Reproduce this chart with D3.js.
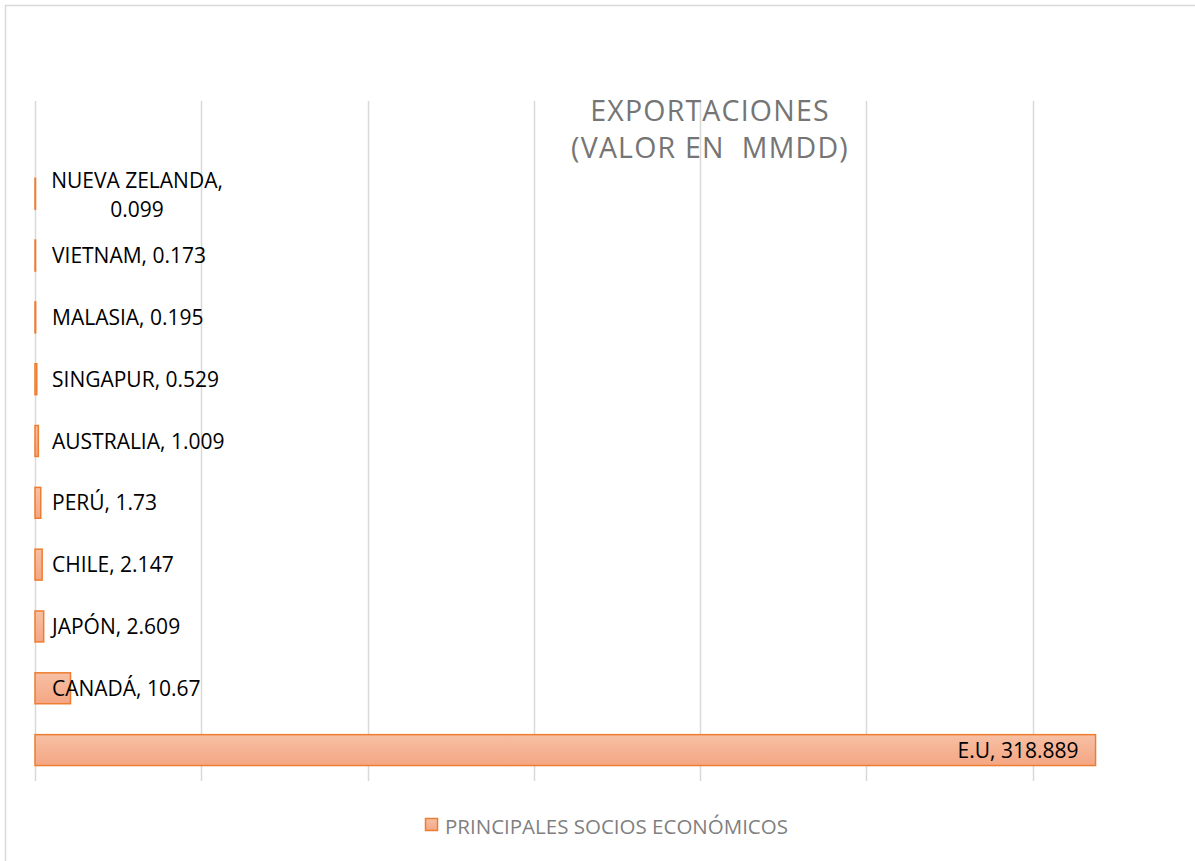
<!DOCTYPE html>
<html>
<head>
<meta charset="utf-8">
<script src="https://cdn.jsdelivr.net/npm/d3@7"></script>
<style>
  body { margin: 0; background: #fff; }
  svg { display: block; font-family: "Open Sans", sans-serif; }
</style>
</head>
<body>
<svg id="chart" width="1195" height="861"></svg>
<script>
// categories top -> bottom
var countries = ["NUEVA ZELANDA", "VIETNAM", "MALASIA", "SINGAPUR", "AUSTRALIA", "PERÚ", "CHILE", "JAPÓN", "CANADÁ", "E.U"];
var values = [0.099, 0.173, 0.195, 0.529, 1.009, 1.73, 2.147, 2.609, 10.67, 318.889];
var xTicks = [0, 50, 100, 150, 200, 250, 300, 350];
var seriesName = "PRINCIPALES SOCIOS ECONÓMICOS";
var titleLines = ["EXPORTACIONES", "(VALOR EN  MMDD)"];

var data = countries.map(function(c, i) { return { name: c, value: values[i] }; });

var svg = d3.select("#chart");

// chart area frame
svg.append("rect")
    .attr("x", 5.5).attr("y", 5.5)
    .attr("width", 1300).attr("height", 1000)
    .attr("fill", "#fff")
    .attr("stroke", "#d9d9d9")
    .attr("stroke-width", 1.5);

var defs = svg.append("defs");
var grad = defs.append("linearGradient")
    .attr("id", "barGrad")
    .attr("x1", 0).attr("y1", 0).attr("x2", 0).attr("y2", 1);
grad.append("stop").attr("offset", "0%").attr("stop-color", "#f7c0a4");
grad.append("stop").attr("offset", "100%").attr("stop-color", "#f4a683");

var plotTop = 101, plotBottom = 781;
var step = (plotBottom - plotTop) / (countries.length + 1);

var x = d3.scaleLinear().domain([0, 350]).range([35, 1199]);
var y = d3.scaleBand()
    .domain(countries)
    .range([plotTop + step, plotBottom])
    .paddingInner(0.5)
    .paddingOuter(0.25);

// gridlines
svg.append("g")
    .attr("class", "grid")
  .selectAll("line")
  .data(xTicks)
  .enter().append("line")
    .attr("x1", function(d) { return Math.round(x(d)) + 0.5; })
    .attr("x2", function(d) { return Math.round(x(d)) + 0.5; })
    .attr("y1", plotTop)
    .attr("y2", plotBottom)
    .style("stroke", "#d9d9d9")
    .style("stroke-width", 1.5);

// title, two separate lines
svg.append("g")
  .selectAll("text")
  .data(titleLines)
  .enter().append("text")
    .attr("x", 710)
    .attr("y", function(d, i) { return 121 + i * 37; })
    .attr("text-anchor", "middle")
    .style("fill", "#757575")
    .style("font-size", "28.5px")
    .style("letter-spacing", "1.2px")
    .style("white-space", "pre")
    .text(function(d) { return d; });

// bars
svg.append("g")
  .selectAll("rect")
  .data(data)
  .enter().append("rect")
    .attr("x", x(0))
    .attr("y", function(d) { return y(d.name); })
    .attr("width", function(d) { return Math.max(x(d.value) - x(0), 0.5); })
    .attr("height", y.bandwidth())
    .attr("fill", "url(#barGrad)")
    .style("stroke", "#ed7d31")
    .style("stroke-width", 1.5);

// labels
var labels = svg.append("g")
  .selectAll("text")
  .data(data)
  .enter().append("text")
    .style("font-size", "21px")
    .style("fill", "#000");

labels.each(function(d) {
  var t = d3.select(this);
  var cy = y(d.name) + y.bandwidth() / 2;
  var txt = d.name + ", " + d.value;
  if (d.name === "E.U") {
    t.attr("x", x(d.value) - 17).attr("y", cy + 7.5)
      .attr("text-anchor", "end").text(txt);
  } else if (d.name === "NUEVA ZELANDA") {
    t.attr("text-anchor", "middle");
    t.append("tspan").attr("x", 137).attr("y", cy - 6).text(d.name + ",");
    t.append("tspan").attr("x", 137).attr("y", cy + 23).text(d.value);
  } else {
    t.attr("x", 52).attr("y", cy + 7.5).text(txt);
  }
});

// legend
var legend = svg.append("g").attr("transform", "translate(425,818)");
legend.append("rect")
    .attr("x", 0.5).attr("y", 0.5)
    .attr("width", 12).attr("height", 12)
    .attr("fill", "url(#barGrad)")
    .style("stroke", "#ed7d31")
    .style("stroke-width", 1.5);
legend.append("text")
    .attr("x", 20)
    .attr("y", 16)
    .style("font-size", "20.5px")
    .style("fill", "#7f7f7f")
    .text(seriesName);
</script>
</body>
</html>
